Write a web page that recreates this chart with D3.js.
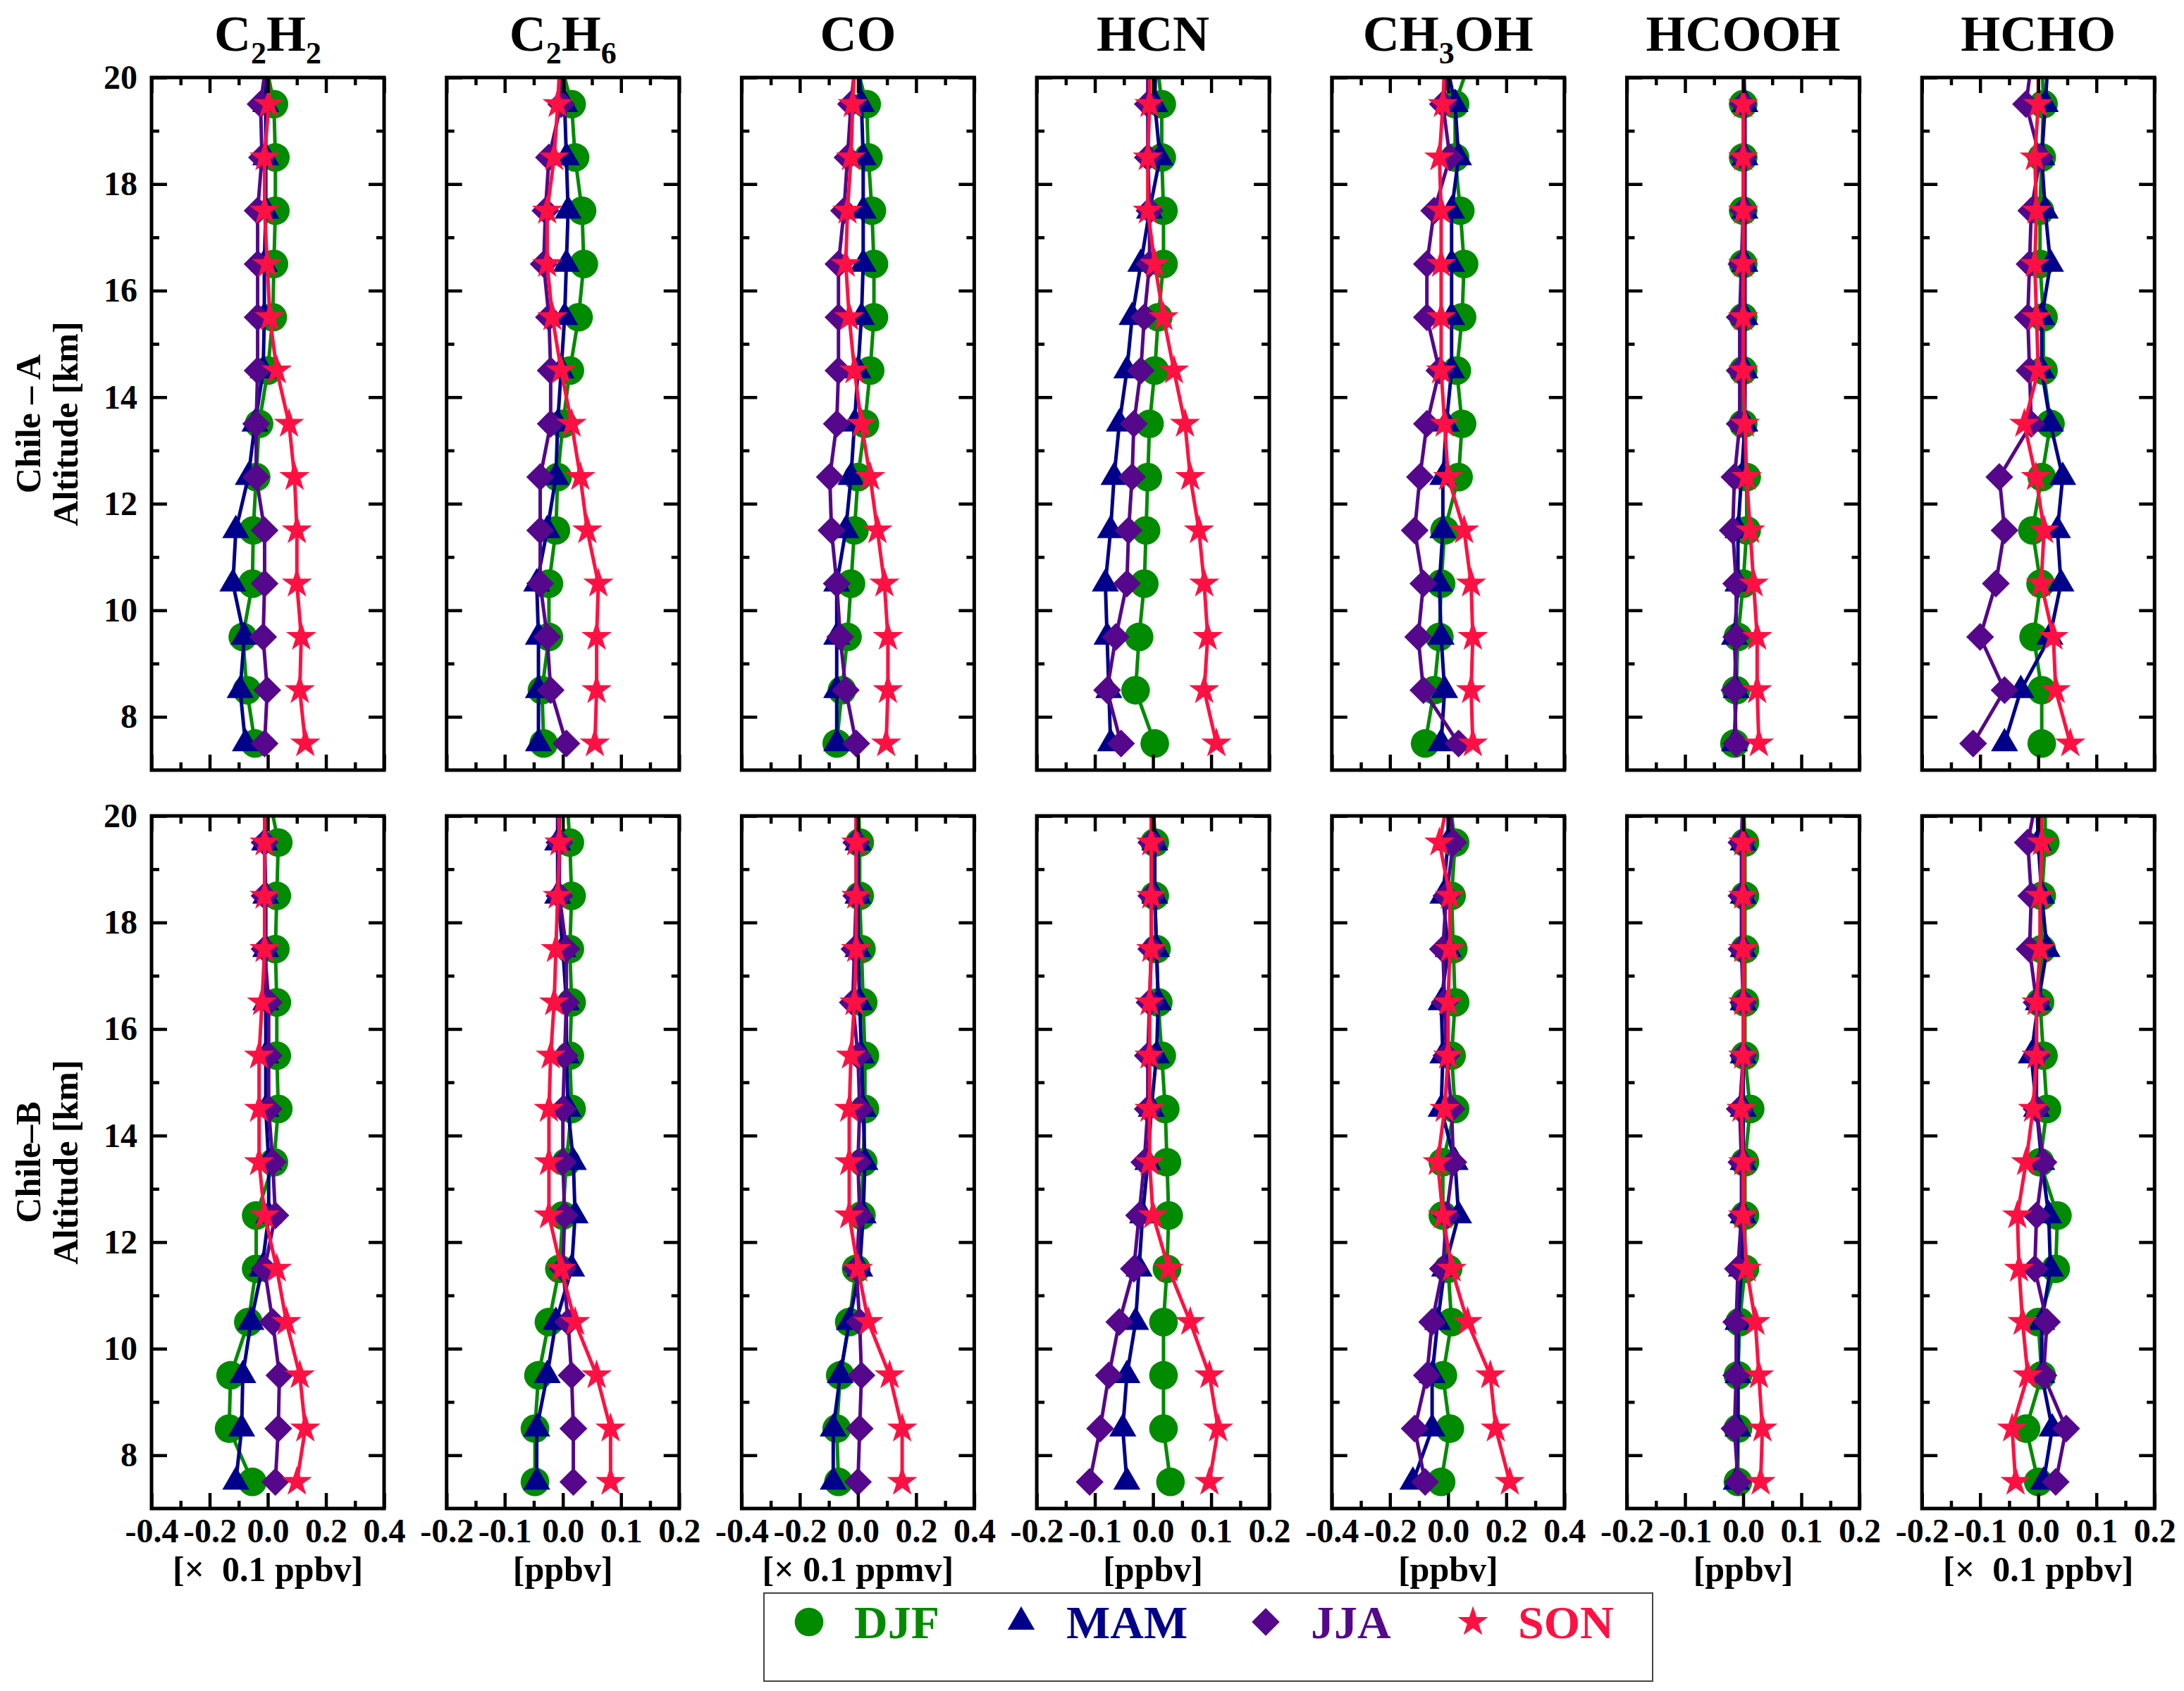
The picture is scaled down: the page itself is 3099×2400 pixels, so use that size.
<!DOCTYPE html>
<html>
<head>
<meta charset="utf-8">
<script src="https://cdn.jsdelivr.net/npm/d3@7"></script>
<style>
  body { margin: 0; background: #fff; }
  text { font-family: "Liberation Serif", "Times New Roman", serif; font-weight: bold; }
</style>
</head>
<body>
<div id="chart"></div>
<script>
// altitude levels (km); the 20.5 level only shows as the short stub leaving the top of the frame
const altitudes = [7.5, 8.5, 9.5, 10.5, 11.5, 12.5, 13.5, 14.5, 15.5, 16.5, 17.5, 18.5, 19.5, 20.5];
const seasons = ["DJF", "MAM", "JJA", "SON"];
const species = ["C_2H_2", "C_2H_6", "CO", "HCN", "CH_3OH", "HCOOH", "HCHO"];
const xLimits = [0.4, 0.2, 0.4, 0.2, 0.4, 0.2, 0.2];
const units = ["[×  0.1 ppbv]", "[ppbv]", "[× 0.1 ppmv]", "[ppbv]", "[ppbv]", "[ppbv]", "[×  0.1 ppbv]"];
const sites = ["Chile – A", "Chile–B"];
const yTicks = [8, 10, 12, 14, 16, 18, 20];
const yMinorTicks = [9, 11, 13, 15, 17, 19];

// each panel: [DJF, MAM, JJA, SON], values from 7.5 km up to 20.5 km
const C2H2_A = [
  [-0.044, -0.072, -0.086, -0.053, -0.05, -0.04, -0.03, 0.0, 0.017, 0.021, 0.026, 0.026, 0.021, -0.015],
  [-0.077, -0.095, -0.081, -0.12, -0.11, -0.067, -0.044, -0.016, -0.012, -0.012, -0.007, -0.007, -0.007, -0.005],
  [-0.011, -0.002, -0.016, -0.011, -0.011, -0.04, -0.04, -0.035, -0.035, -0.035, -0.035, -0.02, -0.025, 0.0],
  [0.129, 0.11, 0.115, 0.10, 0.10, 0.092, 0.073, 0.031, 0.007, -0.002, -0.011, -0.011, 0.003, 0.0]
];
const C2H6_A = [
  [-0.033, -0.036, -0.024, -0.024, -0.012, -0.009, 0.0, 0.012, 0.027, 0.036, 0.033, 0.021, 0.015, -0.009],
  [-0.042, -0.042, -0.042, -0.045, -0.027, -0.012, -0.009, -0.003, 0.003, 0.006, 0.009, 0.006, 0.003, 0.0],
  [0.006, -0.021, -0.027, -0.039, -0.039, -0.039, -0.021, -0.021, -0.024, -0.033, -0.03, -0.024, -0.003, -0.005],
  [0.055, 0.058, 0.058, 0.061, 0.042, 0.03, 0.015, -0.003, -0.018, -0.027, -0.027, -0.015, -0.009, -0.004]
];
const CO_A = [
  [-0.073, -0.055, -0.036, -0.024, -0.012, 0.0, 0.024, 0.042, 0.055, 0.055, 0.048, 0.036, 0.03, -0.018],
  [-0.073, -0.073, -0.073, -0.073, -0.042, -0.024, -0.012, 0.0, 0.012, 0.018, 0.018, 0.018, 0.012, 0.0],
  [-0.006, -0.042, -0.061, -0.073, -0.091, -0.097, -0.073, -0.067, -0.067, -0.067, -0.048, -0.036, -0.024, -0.005],
  [0.097, 0.103, 0.103, 0.091, 0.067, 0.042, 0.012, -0.012, -0.03, -0.042, -0.036, -0.024, -0.018, -0.01]
];
const HCN_A = [
  [0.003, -0.03, -0.024, -0.015, -0.012, -0.009, -0.006, 0.003, 0.009, 0.018, 0.018, 0.015, 0.015, 0.005],
  [-0.073, -0.076, -0.079, -0.082, -0.073, -0.067, -0.058, -0.045, -0.036, -0.021, -0.006, 0.012, 0.003, 0.005],
  [-0.055, -0.079, -0.064, -0.045, -0.042, -0.036, -0.033, -0.021, -0.015, -0.006, -0.006, -0.009, -0.009, -0.009],
  [0.109, 0.088, 0.094, 0.088, 0.079, 0.064, 0.055, 0.036, 0.018, 0.003, -0.009, -0.009, -0.006, -0.006]
];
const CH3OH_A = [
  [-0.079, -0.048, -0.03, -0.024, -0.012, 0.036, 0.048, 0.03, 0.048, 0.055, 0.042, 0.024, 0.024, 0.086],
  [-0.024, -0.012, -0.024, -0.03, -0.018, -0.018, -0.006, 0.012, 0.012, 0.012, 0.012, 0.036, 0.024, -0.014],
  [0.036, -0.085, -0.103, -0.085, -0.115, -0.097, -0.073, -0.03, -0.073, -0.073, -0.048, 0.006, -0.018, 0.008],
  [0.085, 0.079, 0.085, 0.079, 0.055, 0.0, -0.012, -0.024, -0.024, -0.024, -0.024, -0.03, -0.018, -0.01]
];
const HCOOH_A = [
  [-0.015, -0.012, -0.009, 0.0, 0.006, 0.006, 0.0, 0.0, 0.0, 0.0, 0.0, 0.0, 0.0, 0.0],
  [-0.015, -0.012, -0.015, -0.009, -0.009, -0.003, 0.003, 0.003, 0.003, 0.003, 0.003, 0.003, 0.003, 0.0],
  [-0.012, -0.015, -0.012, -0.012, -0.018, -0.015, -0.006, -0.006, -0.006, -0.003, 0.0, 0.0, 0.0, 0.0],
  [0.027, 0.024, 0.024, 0.018, 0.012, 0.006, 0.003, 0.0, 0.0, 0.0, 0.0, 0.0, 0.0, 0.0]
];
const HCHO_A = [
  [0.006, 0.006, -0.008, 0.004, -0.01, 0.006, 0.021, 0.009, 0.009, 0.003, 0.003, 0.006, 0.009, 0.006],
  [-0.058, -0.03, 0.02, 0.039, 0.033, 0.042, 0.021, 0.006, 0.006, 0.021, 0.012, 0.006, 0.012, 0.018],
  [-0.112, -0.058, -0.1, -0.073, -0.058, -0.067, -0.012, -0.015, -0.018, -0.015, -0.012, 0.003, -0.021, -0.009],
  [0.055, 0.03, 0.026, 0.005, 0.01, -0.004, -0.024, 0.0, -0.003, -0.006, -0.003, -0.006, 0.0, 0.0]
];

const C2H2_B = [
  [-0.053, -0.133, -0.128, -0.067, -0.04, -0.04, 0.021, 0.036, 0.031, 0.031, 0.026, 0.031, 0.036, 0.0],
  [-0.11, -0.09, -0.086, -0.058, -0.02, 0.003, 0.003, -0.007, -0.007, -0.007, -0.007, -0.007, -0.011, -0.01],
  [0.026, 0.036, 0.04, 0.017, -0.011, 0.026, 0.017, 0.003, 0.003, 0.003, -0.011, -0.011, -0.011, -0.01],
  [0.10, 0.129, 0.11, 0.064, 0.031, -0.011, -0.03, -0.03, -0.03, -0.02, -0.011, -0.011, -0.011, -0.01]
];
const C2H6_B = [
  [-0.048, -0.048, -0.042, -0.024, -0.006, 0.0, 0.006, 0.015, 0.012, 0.015, 0.012, 0.015, 0.012, 0.006],
  [-0.045, -0.045, -0.027, -0.012, 0.015, 0.021, 0.018, 0.009, 0.006, 0.006, 0.0, -0.009, -0.009, -0.009],
  [0.018, 0.018, 0.015, 0.009, 0.0, 0.003, 0.0, 0.0, 0.003, 0.006, 0.006, -0.006, -0.006, -0.006],
  [0.082, 0.082, 0.058, 0.021, -0.003, -0.024, -0.024, -0.024, -0.021, -0.015, -0.012, -0.009, -0.006, -0.009]
];
const CO_B = [
  [-0.067, -0.073, -0.061, -0.03, -0.006, 0.012, 0.018, 0.024, 0.024, 0.018, 0.012, 0.006, 0.006, 0.0],
  [-0.085, -0.085, -0.061, -0.03, 0.006, 0.018, 0.024, 0.018, 0.012, 0.006, 0.0, 0.0, 0.0, 0.0],
  [0.0, 0.006, 0.012, 0.006, -0.006, 0.006, 0.0, 0.006, 0.0, -0.018, -0.012, -0.006, -0.006, -0.006],
  [0.152, 0.152, 0.109, 0.036, 0.0, -0.03, -0.03, -0.03, -0.024, -0.012, -0.006, -0.006, -0.006, -0.006]
];
const HCN_B = [
  [0.03, 0.018, 0.018, 0.018, 0.024, 0.027, 0.024, 0.021, 0.015, 0.009, 0.006, 0.003, 0.003, 0.0],
  [-0.045, -0.052, -0.045, -0.03, -0.024, -0.018, -0.009, -0.003, 0.006, 0.009, 0.006, 0.003, 0.003, 0.0],
  [-0.109, -0.091, -0.076, -0.058, -0.033, -0.024, -0.015, -0.009, -0.009, -0.006, -0.003, -0.003, -0.003, -0.003],
  [0.097, 0.112, 0.097, 0.064, 0.027, 0.0, -0.006, -0.006, -0.006, -0.006, -0.003, -0.003, -0.003, -0.003]
];
const CH3OH_B = [
  [-0.024, 0.006, -0.018, 0.012, 0.0, -0.018, -0.018, 0.024, 0.012, 0.024, 0.018, 0.012, 0.024, 0.0],
  [-0.121, -0.055, -0.055, -0.036, -0.012, 0.036, 0.024, -0.024, -0.018, -0.024, 0.0, -0.018, 0.0, 0.0],
  [-0.079, -0.115, -0.073, -0.055, -0.018, -0.006, 0.018, 0.012, -0.006, -0.012, -0.018, -0.006, 0.018, 0.0],
  [0.212, 0.164, 0.145, 0.067, 0.012, -0.018, -0.036, -0.012, 0.0, 0.0, 0.006, 0.006, -0.03, 0.006]
];
const HCOOH_B = [
  [-0.009, -0.009, -0.009, -0.006, 0.003, 0.003, 0.003, 0.012, 0.003, 0.003, 0.003, 0.003, 0.003, 0.0],
  [-0.012, -0.009, -0.009, -0.009, -0.003, 0.0, 0.0, 0.0, 0.0, 0.0, 0.0, 0.0, 0.0, 0.0],
  [-0.009, -0.015, -0.012, -0.012, -0.009, -0.003, -0.003, -0.006, 0.0, 0.0, -0.003, -0.003, -0.003, 0.0],
  [0.03, 0.033, 0.027, 0.021, 0.006, 0.0, 0.0, -0.003, 0.0, 0.0, 0.0, 0.0, 0.0, 0.0]
];
const HCHO_B = [
  [0.0, -0.021, 0.006, 0.0, 0.03, 0.033, 0.003, 0.015, 0.009, 0.003, 0.006, 0.006, 0.012, 0.012],
  [0.009, 0.024, 0.006, 0.006, 0.021, 0.018, 0.006, -0.003, -0.012, 0.0, 0.015, 0.006, 0.0, -0.003],
  [0.03, 0.048, 0.009, 0.015, -0.006, -0.003, 0.009, -0.003, -0.003, -0.003, -0.015, -0.012, -0.018, 0.0],
  [-0.039, -0.045, -0.018, -0.027, -0.033, -0.036, -0.021, -0.009, -0.003, -0.003, 0.003, 0.003, 0.006, 0.006]
];

const rowsData = [
  [C2H2_A, C2H6_A, CO_A, HCN_A, CH3OH_A, HCOOH_A, HCHO_A],
  [C2H2_B, C2H6_B, CO_B, HCN_B, CH3OH_B, HCOOH_B, HCHO_B]
];

const colors = ["#008B00", "#00008B", "#55088B", "#FF1042"];
const serif = '"Liberation Serif", "Times New Roman", serif';

// layout
const W = 3099, H = 2400;
const panelW = 330, colStep = 418.7, firstLeft = 215;
const rowTop = [110, 1158], rowBottom = [1093, 2141];

const svg = d3.select("#chart").append("svg")
    .attr("width", W)
    .attr("height", H)
    .attr("font-family", serif)
    .attr("font-weight", "bold");

svg.append("rect").attr("width", W).attr("height", H).attr("fill", "#fff");

// marker shapes: circle, triangle, diamond (rotated square), star
const symbols = [
  d3.symbol(d3.symbolCircle, 1300)(),
  d3.symbol(d3.symbolTriangle, 640)(),
  d3.symbol(d3.symbolSquare, 780)(),
  d3.symbol(d3.symbolStar, 580)()
];
const symTransform = (s, px, py) => `translate(${px},${py})` + (s === 2 ? " rotate(45)" : "");

function styleAxis(g, size) {
  g.select(".domain").remove();
  g.selectAll("line").attr("stroke", "#000").attr("stroke-width", 4.5);
  g.attr("font-size", size)
    .attr("font-family", serif)
    .attr("font-weight", "bold")
    .attr("fill", "#000");
  g.selectAll("text").attr("fill", "#000");
}

rowsData.forEach((row, r) => {
  const top = rowTop[r], bottom = rowBottom[r];
  const y = d3.scaleLinear().domain([7, 20]).range([bottom, top]);

  row.forEach((panel, c) => {
    const L = xLimits[c];
    const left = firstLeft + c * colStep;
    const x = d3.scaleLinear().domain([-L, L]).range([left, left + panelW]);
    const major = d3.range(-2, 3).map(k => k * L / 2);
    const minor = [-3, -1, 1, 3].map(k => k * L / 4);

    const g = svg.append("g").attr("class", "panel");

    const clipId = `clip-${r}-${c}`;
    svg.append("clipPath").attr("id", clipId)
      .append("rect")
      .attr("x", left).attr("y", top)
      .attr("width", panelW).attr("height", bottom - top);

    // series: line first, then markers, in season order
    const plot = g.append("g").attr("clip-path", `url(#${clipId})`);
    const line = d3.line().x(d => x(d[0])).y(d => y(d[1]));
    panel.forEach((vals, s) => {
      const pts = vals.map((v, k) => [v, altitudes[k]]);
      plot.append("path")
        .datum(pts)
        .attr("d", line)
        .attr("fill", "none")
        .attr("stroke", colors[s])
        .attr("stroke-width", 5)
        .attr("stroke-linejoin", "round");
      plot.selectAll(null)
        .data(pts)
        .enter().append("path")
        .attr("d", symbols[s])
        .attr("transform", d => symTransform(s, x(d[0]), y(d[1])))
        .attr("fill", colors[s]);
    });

    // ticks, all pointing inward
    const fmt = d => r === 1 ? d.toFixed(1) : "";
    g.append("g").attr("transform", `translate(0,${bottom})`)
      .call(d3.axisBottom(x).tickValues(major).tickSize(-22).tickPadding(14).tickFormat(fmt))
      .call(a => styleAxis(a, 48));
    g.append("g").attr("transform", `translate(0,${bottom})`)
      .call(d3.axisBottom(x).tickValues(minor).tickSize(-11).tickFormat(""))
      .call(a => styleAxis(a, 48));
    g.append("g").attr("transform", `translate(0,${top})`)
      .call(d3.axisTop(x).tickValues(major).tickSize(-22).tickFormat(""))
      .call(a => styleAxis(a, 48));
    g.append("g").attr("transform", `translate(0,${top})`)
      .call(d3.axisTop(x).tickValues(minor).tickSize(-11).tickFormat(""))
      .call(a => styleAxis(a, 48));
    g.append("g").attr("transform", `translate(${left},0)`)
      .call(d3.axisLeft(y).tickValues(yTicks).tickSize(-22).tickPadding(20).tickFormat(d => c === 0 ? d : ""))
      .call(a => styleAxis(a, 48));
    g.append("g").attr("transform", `translate(${left},0)`)
      .call(d3.axisLeft(y).tickValues(yMinorTicks).tickSize(-11).tickFormat(""))
      .call(a => styleAxis(a, 48));
    g.append("g").attr("transform", `translate(${left + panelW},0)`)
      .call(d3.axisRight(y).tickValues(yTicks).tickSize(-22).tickFormat(""))
      .call(a => styleAxis(a, 48));
    g.append("g").attr("transform", `translate(${left + panelW},0)`)
      .call(d3.axisRight(y).tickValues(yMinorTicks).tickSize(-11).tickFormat(""))
      .call(a => styleAxis(a, 48));

    // frame
    g.append("rect")
      .attr("x", left).attr("y", top)
      .attr("width", panelW).attr("height", bottom - top)
      .attr("fill", "none")
      .attr("stroke", "#000")
      .attr("stroke-width", 5);

    const cx = left + panelW / 2;

    // species title (top row) with subscripts
    if (r === 0) {
      const t = svg.append("text")
        .attr("x", cx).attr("y", 72)
        .attr("text-anchor", "middle")
        .attr("font-size", 72);
      const parts = species[c].split(/(_\d)/).filter(p => p.length);
      let sub = false;
      parts.forEach(p => {
        if (p[0] === "_") {
          t.append("tspan").attr("font-size", 44).attr("dy", 18).text(p.slice(1));
          sub = true;
        } else {
          t.append("tspan").attr("dy", sub ? -18 : 0).text(p);
          sub = false;
        }
      });
    }

    // unit label under the bottom row
    if (r === 1) {
      svg.append("text")
        .attr("x", cx).attr("y", bottom + 103)
        .attr("text-anchor", "middle")
        .attr("font-size", 50)
        .style("white-space", "pre")
        .text(units[c]);
    }
  });

  // row label
  const cy = (top + bottom) / 2;
  svg.append("text")
    .attr("transform", `translate(57,${cy}) rotate(-90)`)
    .attr("text-anchor", "middle")
    .attr("font-size", 50)
    .text(sites[r]);
  svg.append("text")
    .attr("transform", `translate(110,${cy}) rotate(-90)`)
    .attr("text-anchor", "middle")
    .attr("font-size", 50)
    .text("Altitude [km]");
});

// legend
const legendMarkerX = [1148, 1449, 1796, 2090];
svg.append("rect")
  .attr("x", 1084).attr("y", 2261)
  .attr("width", 1261).attr("height", 125)
  .attr("fill", "none")
  .attr("stroke", "#444")
  .attr("stroke-width", 2);
seasons.forEach((s, i) => {
  svg.append("path")
    .attr("d", symbols[i])
    .attr("transform", symTransform(i, legendMarkerX[i], 2302))
    .attr("fill", colors[i]);
  svg.append("text")
    .attr("x", legendMarkerX[i] + 64).attr("y", 2325)
    .attr("font-size", 66)
    .attr("fill", colors[i])
    .text(s);
});
</script>
</body>
</html>
